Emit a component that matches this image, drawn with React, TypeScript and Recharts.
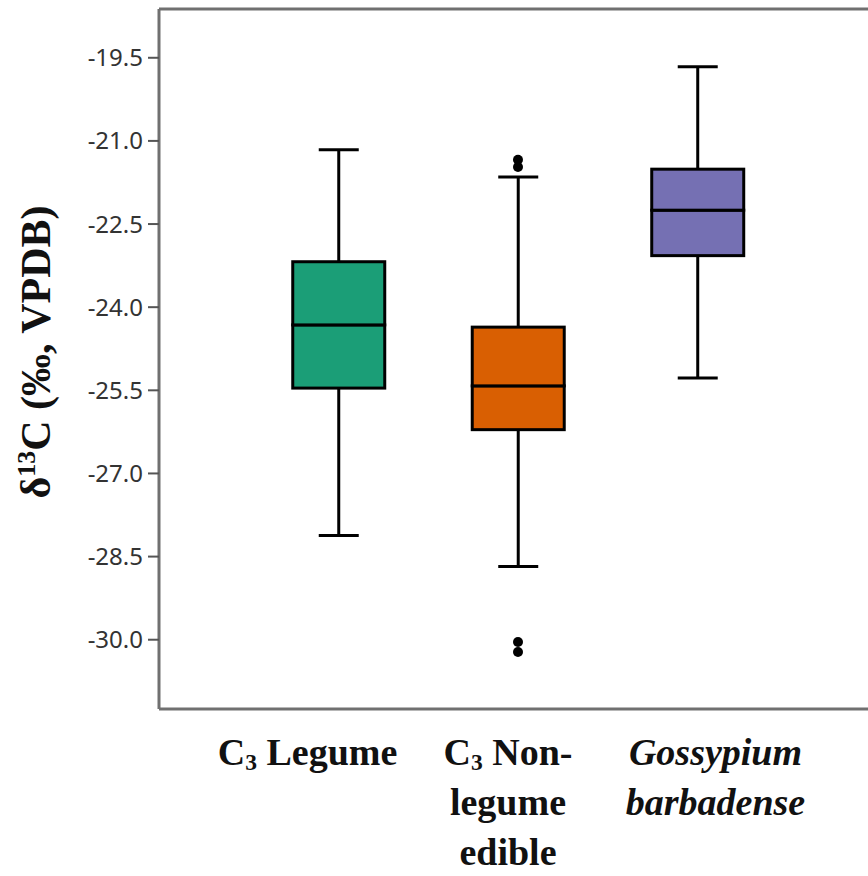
import React from 'react';
import { ComposedChart, Bar, Scatter, XAxis, YAxis, ReferenceLine } from 'recharts';

const CATEGORY_INDEX = [0, 1, 2];
const CATEGORIES = ['C₃ Legume', 'C₃ Non-legume edible', 'Gossypium barbadense'];
const TICK_LINES = [['C₃ Legume'], ['C₃ Non-', 'legume', 'edible'], ['Gossypium', 'barbadense']];
const TICK_ITALIC = [false, false, true];
const WHISKER_LOW = [-28.12, -28.68, -25.28];
const Q1 = [-25.46, -26.21, -23.07];
const MEDIAN = [-24.32, -25.42, -22.25];
const Q3 = [-23.18, -24.36, -21.51];
const WHISKER_HIGH = [-21.16, -21.65, -19.66];
const OUTLIER_GROUP = [1, 1, 1, 1];
const OUTLIER_VALUE = [-21.34, -21.47, -30.04, -30.22];
const Y_TICKS = [-30, -28.5, -27, -25.5, -24, -22.5, -21, -19.5];
const Y_DOMAIN = [-31.25, -18.62];
const X_DOMAIN = [-1, 2.95];
const COLORS = ['#1b9e77', '#d95f02', '#7570b3'];
const LABEL_SHIFT = [-31, -10, 18];

const data = CATEGORY_INDEX.map((idx, i) => ({
  idx,
  name: CATEGORIES[i],
  whisker: [WHISKER_LOW[i], WHISKER_HIGH[i]],
  lower: [Q1[i], MEDIAN[i]],
  upper: [MEDIAN[i], Q3[i]],
}));

const outliers = OUTLIER_VALUE.map((value, i) => ({ idx: OUTLIER_GROUP[i], value }));

const norm = (y: number, h: number) => ({ top: Math.min(y, y + h), bot: Math.max(y, y + h) });

const WhiskerShape = (props: any) => {
  const { x, y, width, height } = props;
  const cx = x + width / 2;
  const { top, bot } = norm(y, height);
  const cap = 20;
  return (
    <g>
      <line x1={cx} x2={cx} y1={top} y2={bot} stroke="#000" strokeWidth={3} />
      <line x1={cx - cap} x2={cx + cap} y1={top} y2={top} stroke="#000" strokeWidth={3} />
      <line x1={cx - cap} x2={cx + cap} y1={bot} y2={bot} stroke="#000" strokeWidth={3} />
    </g>
  );
};

const BoxShape = (props: any) => {
  const { x, y, width, height, index } = props;
  const { top, bot } = norm(y, height);
  return (
    <rect x={x} y={top} width={width} height={bot - top} fill={COLORS[index]} stroke="#000" strokeWidth={3} />
  );
};

const OutlierShape = (props: any) => {
  const { cx, cy } = props;
  return <circle cx={cx} cy={cy} r={5} fill="#000" />;
};

const renderWithSub = (s: string, size: number) => {
  const parts = s.split('₃');
  const out: any[] = [];
  parts.forEach((p, i) => {
    if (i > 0) {
      out.push(
        <tspan key={'s' + i} fontSize={size * 0.62} dy={5}>3</tspan>
      );
      out.push(
        <tspan key={'t' + i} dy={-5}>{p}</tspan>
      );
    } else if (p) {
      out.push(<tspan key={'t' + i}>{p}</tspan>);
    }
  });
  return out;
};

const XTick = (props: any) => {
  const { x, y, payload } = props;
  const i = CATEGORY_INDEX.indexOf(payload.value);
  if (i < 0) return null;
  const lines = TICK_LINES[i];
  const fs = 38;
  return (
    <g>
      {lines.map((ln, k) => (
        <text
          key={k}
          x={x + LABEL_SHIFT[i]}
          y={y + 56 + k * 50}
          textAnchor="middle"
          fontFamily="'Liberation Serif', 'Times New Roman', serif"
          fontWeight="bold"
          fontStyle={TICK_ITALIC[i] ? 'italic' : 'normal'}
          fontSize={fs}
          fill="#111"
        >
          {renderWithSub(ln, fs)}
        </text>
      ))}
    </g>
  );
};

const YTitle = () => (
  <text
    x={50}
    y={352}
    transform="rotate(-90, 50, 352)"
    textAnchor="middle"
    fontFamily="'Liberation Serif', 'Times New Roman', serif"
    fontWeight="bold"
    fontSize={42}
    fill="#111"
  >
    <tspan>δ</tspan>
    <tspan fontSize={26} dy={-15}>13</tspan>
    <tspan dy={15}>C (‰, VPDB)</tspan>
  </text>
);

export default function App() {
  return (
    <div style={{ position: 'absolute', left: 0, top: 0, width: 868, height: 876, overflow: 'hidden', background: '#fff' }}>
      <ComposedChart width={868} height={876} data={data} margin={{ top: 9, right: 0, bottom: 0, left: 0 }}>
        <XAxis
          xAxisId="xw"
          dataKey="idx"
          type="number"
          domain={X_DOMAIN}
          ticks={CATEGORY_INDEX}
          interval={0}
          allowDataOverflow
          height={167}
          tickSize={0}
          tickMargin={0}
          tickLine={false}
          tick={<XTick />}
          axisLine={{ stroke: '#707070', strokeWidth: 3 }}
        />
        <XAxis xAxisId="xl" dataKey="idx" type="number" domain={X_DOMAIN} ticks={CATEGORY_INDEX} allowDataOverflow height={0} hide />
        <XAxis xAxisId="xu" dataKey="idx" type="number" domain={X_DOMAIN} ticks={CATEGORY_INDEX} allowDataOverflow height={0} hide />
        <YAxis
          type="number"
          domain={Y_DOMAIN}
          ticks={Y_TICKS}
          interval={0}
          allowDataOverflow
          width={159}
          tickSize={11}
          tickMargin={5}
          tickFormatter={(v: number) => v.toFixed(1)}
          tick={{ fontFamily: "'Noto Sans', sans-serif", fontSize: 24, fill: '#333' }}
          tickLine={{ stroke: '#555', strokeWidth: 2 }}
          axisLine={{ stroke: '#707070', strokeWidth: 3 }}
          label={<YTitle />}
        />
        <ReferenceLine xAxisId="xw" y={Y_DOMAIN[1]} stroke="#707070" strokeWidth={3} ifOverflow="extendDomain" />
        <Bar xAxisId="xw" dataKey="whisker" barSize={92} shape={<WhiskerShape />} isAnimationActive={false} />
        <Bar xAxisId="xl" dataKey="lower" barSize={92} shape={<BoxShape />} isAnimationActive={false} />
        <Bar xAxisId="xu" dataKey="upper" barSize={92} shape={<BoxShape />} isAnimationActive={false} />
        <Scatter xAxisId="xw" data={outliers} dataKey="value" shape={<OutlierShape />} isAnimationActive={false} />
      </ComposedChart>
    </div>
  );
}
